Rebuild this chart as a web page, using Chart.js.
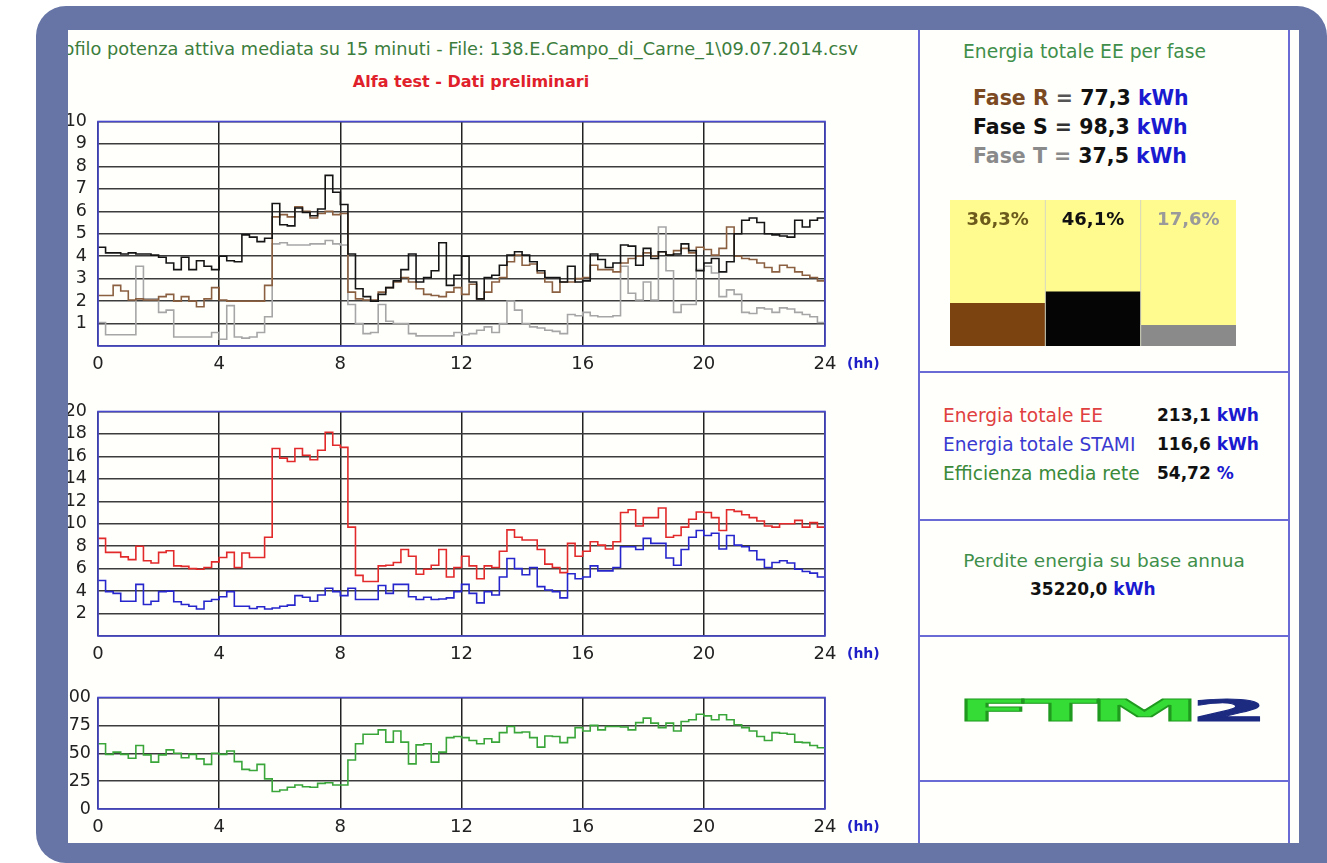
<!DOCTYPE html>
<html>
<head>
<meta charset="utf-8">
<script src="https://cdn.jsdelivr.net/npm/chart.js@4.4.1/dist/chart.umd.min.js"></script>
<style>
  html, body { margin: 0; padding: 0; width: 1327px; height: 863px; overflow: hidden; background: #fff; }
  body { font-family: "DejaVu Sans", Verdana, sans-serif; }
  #frame { position: absolute; left: 36px; top: 6px; width: 1291px; height: 857px; background: #6675a6; border-radius: 30px 30px 0 30px; }
  #inner { position: absolute; left: 68px; top: 30px; width: 1231px; height: 813px; background: #fffffc; overflow: hidden; }
  #inner canvas { position: absolute; }
  .txt { position: absolute; white-space: nowrap; line-height: 1; }
  .vline { position: absolute; width: 2px; background: #6b6bd6; }
  .hline { position: absolute; height: 2px; background: #6b6bd6; }
  .kwh { color: #1a1ad0; }
</style>
</head>
<body>
<div id="frame"></div>
<div id="inner">
  <div class="txt" style="right:441px; top:11px; font-size:17.75px; color:#3c7d3c;">Profilo potenza attiva mediata su 15 minuti - File: 138.E.Campo_di_Carne_1\09.07.2014.csv</div>
  <div class="txt" style="left:403px; top:44px; transform:translateX(-50%); font-size:16px; font-weight:bold; color:#e0202a;">Alfa test - Dati preliminari</div>

  <canvas id="c1" width="850" height="276" style="left:-10px; top:70px;"></canvas>
  <canvas id="c2" width="850" height="276" style="left:-10px; top:360px;"></canvas>
  <canvas id="c3" width="850" height="159" style="left:-10px; top:650px;"></canvas>

  <div class="vline" style="left:850px; top:0; height:813px;"></div>
  <div class="vline" style="left:1220px; top:0; height:813px;"></div>
  <div class="hline" style="left:850px; top:341px; width:372px;"></div>
  <div class="hline" style="left:850px; top:489px; width:372px;"></div>
  <div class="hline" style="left:850px; top:605px; width:372px;"></div>
  <div class="hline" style="left:850px; top:750px; width:372px;"></div>

  <div class="txt" style="left:895px; top:13px; font-size:18.7px; color:#3f8f4a;">Energia totale EE per fase</div>
  <div class="txt" style="left:905px; top:54px; font-size:20.5px; font-weight:bold; line-height:29px;">
    <div><span style="color:#7b4a22">Fase R</span> <span style="color:#555">=</span> <span style="color:#111">77,3</span> <span class="kwh">kWh</span></div>
    <div><span style="color:#111">Fase S</span> <span style="color:#333">=</span> <span style="color:#111">98,3</span> <span class="kwh">kWh</span></div>
    <div><span style="color:#8a8a8a">Fase T</span> <span style="color:#8a8a8a">=</span> <span style="color:#111">37,5</span> <span class="kwh">kWh</span></div>
  </div>
  <canvas id="cb" width="286" height="146" style="left:882px; top:170px;"></canvas>

  <div class="txt" style="left:875px; top:371px; font-size:18.6px; line-height:29px;">
    <div style="color:#e04040">Energia totale EE</div>
    <div style="color:#3a3ad0">Energia totale STAMI</div>
    <div style="color:#3a8a3a">Efficienza media rete</div>
  </div>
  <div class="txt" style="left:1089px; top:371px; font-size:17px; font-weight:bold; line-height:29px; color:#111;">
    <div>213,1 <span class="kwh">kWh</span></div>
    <div>116,6 <span class="kwh">kWh</span></div>
    <div>54,72 <span class="kwh">%</span></div>
  </div>

  <div class="txt" style="left:1036px; top:522px; transform:translateX(-50%); font-size:18.5px; color:#3f8f4a;">Perdite energia su base annua</div>
  <div class="txt" style="left:962px; top:551px; font-size:17px; font-weight:bold; color:#111;">35220,0 <span class="kwh">kWh</span></div>

  <div class="txt" style="left:1039px; top:681px; transform:translate(-50%,-50%) scale(4.0, 1.1); font-size:28px; font-weight:bold; letter-spacing:-2.5px; -webkit-text-stroke:0.8px;"><span style="color:#36dc36; -webkit-text-stroke-color:#1f9a1f;">FTM</span><span style="color:#1c2a80; -webkit-text-stroke-color:#1c2a80;">2</span></div>
</div>

<script>
// potenza attiva per fase, kW, media su 15 minuti (96 valori 00:00 -> 24:00)
const faseS = [
  4.4, 4.15, 4.15, 4.1,   4.15, 4.1, 4.1, 4.05,   3.95, 3.7, 3.4, 3.95,   3.4, 3.8, 3.55, 3.4,
  4.0, 3.8, 3.75, 4.95,   4.85, 4.65, 4.8, 6.35,   5.4, 5.35, 6.15, 5.95,  5.8, 6.1, 7.6, 6.85,
  6.3, 4.1, 2.55, 2.2,    2.0, 2.3, 2.6, 2.9,      3.4, 4.1, 2.85, 3.05,   3.35, 4.6, 2.7, 3.15,
  4.0, 2.85, 2.1, 3.05,   3.15, 3.6, 4.05, 4.2,    4.05, 3.75, 3.35, 3.05, 3.05, 2.85, 3.55, 2.85,
  2.9, 4.1, 3.85, 3.5,    3.7, 4.5, 4.45, 3.6,     4.35, 3.9, 4.2, 4.05,   4.1, 4.55, 4.25, 3.35,
  3.7, 3.9, 3.3, 3.75,    5.0, 5.6, 5.7, 5.5,      5.0, 4.95, 4.9, 4.85,   5.6, 5.3, 5.6, 5.7
];
const faseR = [
  2.25, 2.25, 2.7, 2.45,  2.05, 2.1, 2.05, 2.05,   2.2, 2.3, 2.0, 2.2,     2.0, 1.75, 2.1, 2.6,
  2.05, 2.0, 2.0, 2.0,    2.0, 2.0, 2.7, 5.75,     5.85, 5.75, 6.2, 6.0,   5.7, 5.9, 6.0, 5.85,
  5.9, 2.4, 2.1, 2.05,    2.05, 2.4, 2.6, 2.85,    3.05, 2.85, 2.55, 2.3,  2.25, 2.2, 2.4, 2.6,
  2.3, 2.75, 2.1, 2.4,    2.85, 3.05, 3.75, 4.05,  3.6, 3.65, 3.25, 2.85,  2.4, 2.85, 2.85, 3.0,
  3.05, 3.6, 3.4, 3.4,    3.3, 3.7, 3.9, 4.0,      4.15, 4.0, 4.2, 4.05,   4.25, 4.35, 4.15, 4.4,
  4.3, 4.05, 4.35, 5.3,   4.0, 3.9, 3.85, 3.7,     3.5, 3.3, 3.6, 3.5,     3.3, 3.15, 3.05, 2.9
];
const faseT = [
  1.05, 0.5, 0.5, 0.5,    0.5, 3.55, 2.1, 2.1,     1.5, 1.6, 0.4, 0.4,     0.4, 0.4, 0.4, 0.6,
  0.3, 1.8, 0.4, 0.35,    0.4, 0.6, 1.3, 4.55,     4.6, 4.5, 4.5, 4.5,     4.55, 4.55, 4.7, 4.55,
  4.5, 1.85, 1.0, 0.55,   0.6, 1.85, 1.1, 1.0,     1.0, 0.55, 0.45, 0.45,  0.45, 0.45, 0.45, 0.6,
  0.5, 0.55, 0.7, 0.85,   0.6, 1.0, 2.0, 1.6,      1.0, 0.85, 0.8, 0.7,    0.65, 0.55, 1.4, 1.35,
  1.5, 1.35, 1.3, 1.3,    1.35, 3.55, 2.35, 2.05,  2.85, 2.05, 5.3, 3.35,  1.5, 1.85, 1.85, 3.4,
  3.55, 3.25, 2.2, 2.5,   2.3, 1.5, 1.45, 1.7,     1.65, 1.5, 1.7, 1.65,   1.5, 1.4, 1.3, 1.05
];
// energia EE e STAMI, kW
const energiaEE = [
  8.7, 7.45, 7.45, 7.05,  6.8, 8.0, 6.7, 6.5,      7.45, 7.6, 6.25, 6.2,   6.0, 5.95, 6.1, 6.6,
  7.0, 7.45, 6.1, 7.4,    7.0, 7.0, 8.8, 16.7,     15.85, 15.55, 16.7, 16.1, 15.7, 16.55, 18.15, 17.0,
  16.8, 9.7, 5.4, 4.85,   4.85, 6.25, 6.3, 6.55,   7.7, 7.1, 5.5, 5.95,    6.3, 7.7, 5.25, 6.1,
  7.1, 6.25, 5.1, 6.25,   6.1, 7.55, 9.45, 8.8,    8.55, 8.55, 7.7, 6.4,   6.1, 5.65, 8.25, 7.1,
  7.55, 8.4, 8.1, 7.75,   8.4, 11.0, 11.25, 9.8,   10.55, 10.55, 11.4, 8.8, 8.95, 9.7, 10.4, 11.05,
  11.0, 10.55, 9.4, 11.25, 11.1, 10.8, 10.55, 10.25, 9.8, 9.7, 10.0, 10.0, 10.3, 9.7, 10.1, 9.7
];
const energiaStami = [
  4.95, 3.95, 3.8, 3.1,   3.1, 4.6, 2.8, 3.1,      3.95, 4.0, 3.05, 2.8,   2.65, 2.4, 3.1, 3.25,
  3.5, 3.95, 2.65, 2.65,  2.45, 2.6, 2.4, 2.5,     2.65, 2.75, 3.6, 3.45,  3.1, 3.65, 4.25, 3.95,
  3.6, 4.25, 3.25, 3.25,  3.25, 4.5, 3.8, 4.6,     4.6, 3.5, 3.25, 3.45,   3.25, 3.3, 3.4, 3.95,
  4.6, 3.8, 2.95, 3.95,   3.65, 5.25, 6.9, 6.0,    5.45, 6.1, 4.4, 4.1,    3.95, 3.4, 5.55, 5.1,
  5.25, 6.25, 5.8, 5.8,   6.1, 7.95, 7.95, 7.7,    8.7, 8.25, 8.25, 6.95,  6.3, 7.7, 8.8, 9.4,
  8.95, 9.15, 7.75, 8.95, 8.1, 7.95, 7.6, 6.8,     6.1, 6.55, 6.7, 6.5,    5.95, 5.75, 5.6, 5.25
];
// efficienza rete, %
const efficienza = [
  58.5, 49, 51, 49,       45.5, 57, 48.5, 42,      48.5, 53, 50, 46,       49, 45, 40, 50,
  49, 52, 42.5, 35.5,     34.5, 40, 27, 15.7,      17, 19.5, 21.5, 20,     19.5, 23, 23.5, 21.5,
  21.5, 44, 58.5, 67,     67, 71, 60, 70,          60, 40.5, 57.5, 58.5,   42, 51, 64, 65,
  64, 61.5, 58.5, 63,     60, 68.5, 74, 68.5,      69, 64, 55.5, 65.5,     65, 59.5, 64, 73,
  70, 75, 71, 74,         74, 73.5, 71, 77.5,      81.5, 77, 73, 77,       70, 78.5, 80, 85,
  83.5, 80, 84.5, 80,     75.5, 73, 70, 65,        61.5, 68.5, 68, 67,     60, 59.5, 57, 55
];
// energia per fase, kWh
const fasi = ['Fase R', 'Fase S', 'Fase T'];
const energiaFase = [77.3, 98.3, 37.5];

Chart.defaults.font.family = '"DejaVu Sans", Verdana, sans-serif';
Chart.defaults.color = '#222';
Chart.defaults.animation = false;

const STEP_H = 0.25;

function toSteps(values) {
    const pts = values.map((v, i) => ({ x: i * STEP_H, y: v }));
    pts.push({ x: values.length * STEP_H, y: values[values.length - 1] });
    return pts;
}

const framePlugin = {
    id: 'frame',
    afterDraw(chart) {
        const { ctx, chartArea: a } = chart;
        const xs = chart.scales.x;
        ctx.save();
        ctx.strokeStyle = '#4848cc';
        ctx.lineWidth = 1.6;
        ctx.strokeRect(a.left, a.top, a.right - a.left, a.bottom - a.top);
        ctx.fillStyle = '#1f1fc8';
        ctx.font = 'bold 14px "DejaVu Sans"';
        ctx.textBaseline = 'middle';
        ctx.textAlign = 'left';
        ctx.fillText('(hh)', a.right + 22, xs.top + 18);
        ctx.restore();
    }
};

function line(label, values, color, order) {
    return {
        label, data: toSteps(values), borderColor: color, borderWidth: 1.6,
        stepped: true, pointRadius: 0, fill: false, order
    };
}

function createStepChart(id, datasets, yMax, yStep, hideZero, labelGap) {
    return new Chart(document.getElementById(id), {
        type: 'line',
        data: { datasets },
        options: {
            responsive: false,
            layout: { padding: { left: 0, right: 83, top: 13, bottom: 0 } },
            plugins: { legend: { display: false }, tooltip: { enabled: false } },
            scales: {
                x: {
                    type: 'linear', min: 0, max: 24,
                    ticks: { stepSize: 4, padding: 8, autoSkip: false, maxRotation: 0, font: { size: 18 }, color: '#222' },
                    grid: { color: '#222', lineWidth: 1.5, drawTicks: false },
                    border: { display: false },
                    afterFit: s => { s.height = 30; }
                },
                y: {
                    min: 0, max: yMax,
                    ticks: {
                        stepSize: yStep, padding: labelGap, autoSkip: false, font: { size: 17.5 }, color: '#222',
                        callback: v => (hideZero && v === 0) ? '' : v
                    },
                    grid: { color: '#3c3c3c', lineWidth: 1.5, drawTicks: false },
                    border: { display: false },
                    afterFit: s => { s.width = 40; }
                }
            }
        },
        plugins: [framePlugin]
    });
}

createStepChart('c1', [
    line('Fase S', faseS, '#151515', 0),
    line('Fase R', faseR, '#8a6040', 1),
    line('Fase T', faseT, '#a6a6a6', 2)
], 10, 1, true, 11);

createStepChart('c2', [
    line('Energia totale STAMI', energiaStami, '#2626cc', 0),
    line('Energia totale EE', energiaEE, '#e22a2a', 1)
], 20, 2, true, 11);

createStepChart('c3', [
    line('Efficienza', efficienza, '#3aa63a', 0)
], 100, 25, false, 7);

const totaleFasi = energiaFase.reduce((a, b) => a + b, 0);
const percColors = ['#6b5a1c', '#111111', '#9a9a9a'];

const barDecor = {
    id: 'barDecor',
    beforeDatasetsDraw(chart) {
        const { ctx, chartArea: a } = chart;
        ctx.save();
        ctx.fillStyle = '#fffb8f';
        ctx.fillRect(a.left, a.top, a.right - a.left, a.bottom - a.top);
        ctx.restore();
    },
    afterDatasetsDraw(chart) {
        const { ctx, chartArea: a } = chart;
        const xs = chart.scales.x;
        ctx.save();
        ctx.strokeStyle = '#d6d6c2';
        ctx.lineWidth = 1;
        for (let i = 1; i < energiaFase.length; i++) {
            const x = (xs.getPixelForValue(i - 1) + xs.getPixelForValue(i)) / 2;
            ctx.beginPath();
            ctx.moveTo(x, a.top);
            ctx.lineTo(x, a.bottom);
            ctx.stroke();
        }
        ctx.font = 'bold 18px "DejaVu Sans"';
        ctx.textAlign = 'center';
        ctx.textBaseline = 'middle';
        energiaFase.forEach((v, i) => {
            const pct = (v / totaleFasi * 100).toFixed(1).replace('.', ',') + '%';
            ctx.fillStyle = percColors[i];
            ctx.fillText(pct, xs.getPixelForValue(i), a.top + 20);
        });
        ctx.restore();
    }
};

new Chart(document.getElementById('cb'), {
    type: 'bar',
    data: {
        labels: fasi,
        datasets: [{
            data: energiaFase,
            backgroundColor: ['#7a4310', '#050505', '#8a8a8a'],
            borderWidth: 0, barPercentage: 1, categoryPercentage: 1
        }]
    },
    options: {
        responsive: false,
        layout: { padding: 0 },
        plugins: { legend: { display: false }, tooltip: { enabled: false } },
        scales: { x: { display: false }, y: { display: false, min: 0, max: 265 } }
    },
    plugins: [barDecor]
});
</script>
</body>
</html>
